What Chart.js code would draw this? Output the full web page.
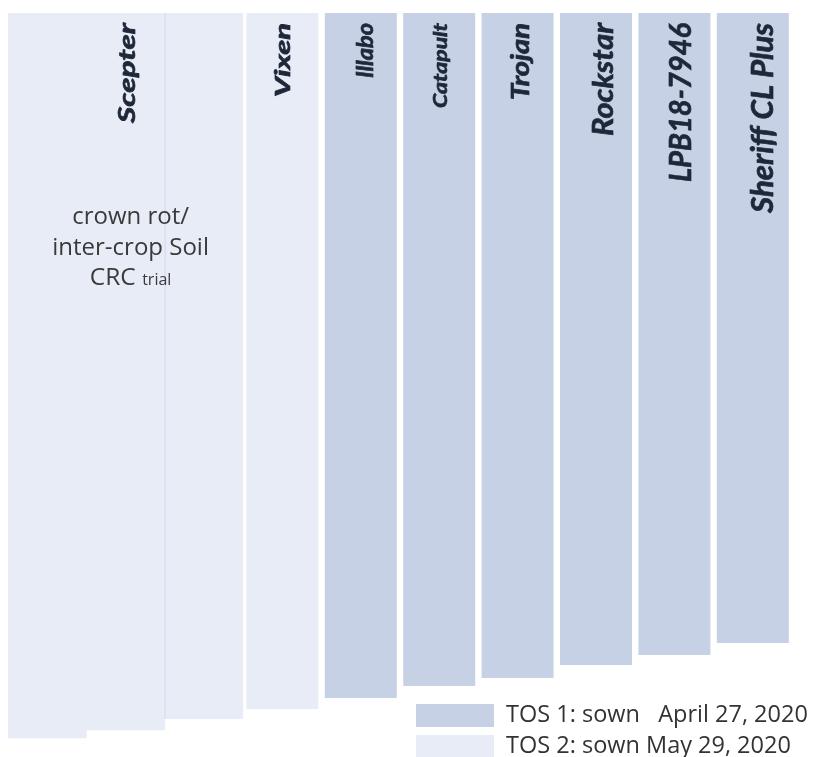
<!DOCTYPE html>
<html>
<head>
<meta charset="utf-8">
<script src="https://cdn.jsdelivr.net/npm/chart.js@4.4.1/dist/chart.umd.min.js"></script>
<style>
  html, body { margin: 0; padding: 0; background: #fff; }
  #plots { display: block; }
</style>
</head>
<body>
<canvas id="plots" width="813" height="757"></canvas>
<script>
// one column per strip, Scepter strips first (the soil CRC trial block)
const varieties = ['', 'Scepter', '', 'Vixen', 'Illabo', 'Catapult', 'Trojan', 'Rockstar', 'LPB18-7946', 'Sheriff CL Plus'];
const seriesNames = ['TOS 1: sown   April 27, 2020', 'TOS 2: sown May 29, 2020'];

// strip lengths, measured down from the top headland
const trialBlock = [725, 717, 706, null, null, null, null, null, null, null];
const tos2 = [null, null, null, 696, null, null, null, null, null, null];
const tos1 = [null, null, null, null, 685, 673, 665, 652, 642, 630];

const trialNote = ['crown rot/', 'inter-crop Soil', 'CRC', 'trial'];

// label styling (font px, drawn length px, baseline offset from strip centre)
const labelSize = [0, 23, 0, 21, 23, 19, 24, 29, 31, 31];
const labelLen = [0, 100, 0, 74, 55, 85, 77, 113, 159, 190];
const labelShift = [0, 9, 0, 8, 12, 8, 11, 17, 17, 20];

const DARK = 'rgb(199,209,229)';
const LIGHT = 'rgb(232,236,246)';

const stripLabels = {
  id: 'stripLabels',
  afterDatasetsDraw(chart) {
    const ctx = chart.ctx;
    const x = chart.scales.x;
    const top = chart.chartArea.top;

    ctx.save();
    ctx.fillStyle = '#1f273a';
    ctx.strokeStyle = '#1f273a';
    ctx.lineWidth = 0.7;
    varieties.forEach((name, i) => {
      if (!name) return;
      ctx.font = `italic 700 ${labelSize[i]}px Lato`;
      const w = ctx.measureText(name).width;
      ctx.save();
      ctx.translate(x.getPixelForValue(i) + labelShift[i], top + 10);
      ctx.rotate(-Math.PI / 2);
      ctx.scale(labelLen[i] / w, 1);
      ctx.textAlign = 'right';
      ctx.textBaseline = 'alphabetic';
      ctx.fillText(name, 0, 0);
      ctx.strokeText(name, 0, 0);
      ctx.restore();
    });

    // note on the trial block
    const cx = x.getPixelForValue(1) + 5;
    ctx.fillStyle = '#3a3a3a';
    ctx.textAlign = 'center';
    ctx.font = '24px "Open Sans"';
    ctx.fillText(trialNote[0], cx, top + 211);
    ctx.fillText(trialNote[1], cx, top + 242);
    ctx.textAlign = 'left';
    const big = '24.5px "Open Sans"';
    const small = '16px "Open Sans"';
    ctx.font = big;
    const w1 = ctx.measureText(trialNote[2] + ' ').width;
    ctx.font = small;
    const w2 = ctx.measureText(trialNote[3]).width;
    const sx = cx - (w1 + w2) / 2;
    ctx.font = big;
    ctx.fillText(trialNote[2], sx, top + 272);
    ctx.font = small;
    ctx.fillText(trialNote[3], sx + w1, top + 272);

    // legend
    const lx = chart.chartArea.left + 408;
    [[seriesNames[0], DARK, 691], [seriesNames[1], LIGHT, 722]].forEach(([text, col, dy]) => {
      ctx.fillStyle = col;
      ctx.fillRect(lx, top + dy, 78, 23);
      ctx.fillStyle = '#333333';
      ctx.font = '23.5px "Open Sans"';
      ctx.fillText(text, lx + 90, top + dy + 18);
    });
    ctx.restore();
  }
};

new Chart(document.getElementById('plots'), {
  type: 'bar',
  data: {
    labels: varieties,
    datasets: [
      {
        label: seriesNames[1],
        data: trialBlock,
        backgroundColor: LIGHT,
        borderColor: 'rgb(200,210,234)',
        borderWidth: (c) => c.dataIndex === 2 ? { left: 1, top: 0, right: 0, bottom: 0 } : 0,
        borderSkipped: false,
        grouped: false,
        barPercentage: 1,
        categoryPercentage: 1
      },
      {
        label: seriesNames[1],
        data: tos2,
        backgroundColor: LIGHT,
        grouped: false,
        barPercentage: 0.918,
        categoryPercentage: 1
      },
      {
        label: seriesNames[0],
        data: tos1,
        backgroundColor: DARK,
        grouped: false,
        barPercentage: 0.918,
        categoryPercentage: 1
      }
    ]
  },
  options: {
    responsive: false,
    animation: false,
    layout: { padding: { left: 8, right: 21, top: 13, bottom: 0 } },
    scales: {
      x: { display: false },
      y: { display: false, reverse: true, min: 0, max: 744 }
    },
    plugins: {
      legend: { display: false },
      tooltip: { enabled: false }
    }
  },
  plugins: [stripLabels]
});
</script>
</body>
</html>
